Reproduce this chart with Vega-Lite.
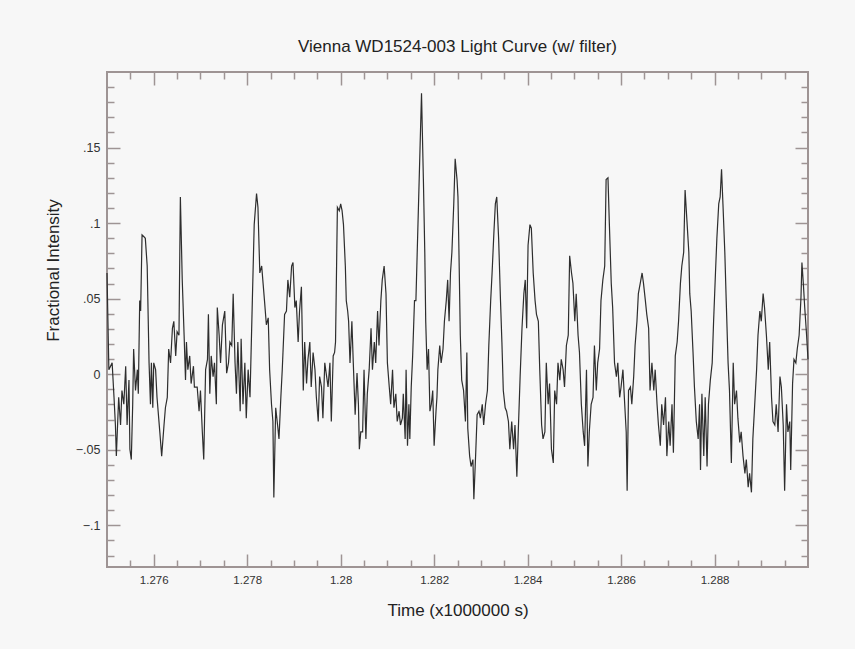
{
  "$schema": "https://vega.github.io/schema/vega-lite/v6.json",
  "width": 701,
  "height": 495,
  "autosize": {"type": "none"},
  "padding": {"left": 107, "top": 72, "right": 47, "bottom": 82},
  "background": "#f7f7f7",
  "title": {"text": "Vienna WD1524-003 Light Curve (w/ filter)", "fontSize": 17, "font": "Liberation Sans", "fontWeight": "normal", "color": "#222222", "baseline": "alphabetic", "offset": 19, "dy": 17},
  "config": {
    "view": {"stroke": "#9e9494", "strokeWidth": 2},
    "axis": {"grid": false, "domain": false, "tickColor": "#9e9494", "tickWidth": 1.5, "labelFont": "Liberation Sans", "titleFont": "Liberation Sans", "labelColor": "#333333", "titleColor": "#222222", "titleFontWeight": "normal"}
  },
  "datasets": {
    "lc": [
      {"t":1.27500,"v":0.0670},{"t":1.27504,"v":0.0030},{"t":1.27511,"v":0.0075},{"t":1.27515,"v":-0.0153},{"t":1.27518,"v":-0.0336},{"t":1.27520,"v":-0.0542},{"t":1.27525,"v":-0.0153},{"t":1.27529,"v":-0.0336},{"t":1.27532,"v":-0.0108},{"t":1.27536,"v":-0.0199},{"t":1.27540,"v":0.0053},{"t":1.27543,"v":-0.0336},{"t":1.27547,"v":-0.0039},{"t":1.27549,"v":-0.0497},{"t":1.27552,"v":-0.0565},{"t":1.27555,"v":-0.0199},{"t":1.27557,"v":0.0167},{"t":1.27561,"v":-0.0108},{"t":1.27565,"v":0.0030},{"t":1.27567,"v":-0.0130},{"t":1.27570,"v":0.0487},{"t":1.27572,"v":0.0418},{"t":1.27575,"v":0.0922},{"t":1.27579,"v":0.0910},{"t":1.27582,"v":0.0899},{"t":1.27586,"v":0.0716},{"t":1.27590,"v":0.0075},{"t":1.27593,"v":-0.0199},{"t":1.27595,"v":0.0075},{"t":1.27598,"v":-0.0222},{"t":1.27600,"v":0.0075},{"t":1.27604,"v":0.0030},{"t":1.27607,"v":-0.0153},{"t":1.27613,"v":-0.0382},{"t":1.27617,"v":-0.0542},{"t":1.27622,"v":-0.0336},{"t":1.27625,"v":-0.0222},{"t":1.27629,"v":-0.0153},{"t":1.27632,"v":0.0167},{"t":1.27636,"v":0.0075},{"t":1.27640,"v":0.0304},{"t":1.27643,"v":0.0350},{"t":1.27647,"v":0.0121},{"t":1.27650,"v":0.0281},{"t":1.27654,"v":0.0258},{"t":1.27657,"v":0.1173},{"t":1.27661,"v":0.0624},{"t":1.27665,"v":0.0258},{"t":1.27668,"v":-0.0039},{"t":1.27670,"v":0.0213},{"t":1.27673,"v":0.0030},{"t":1.27677,"v":0.0121},{"t":1.27680,"v":-0.0062},{"t":1.27685,"v":0.0053},{"t":1.27687,"v":-0.0085},{"t":1.27693,"v":-0.0085},{"t":1.27697,"v":-0.0245},{"t":1.27700,"v":-0.0108},{"t":1.27704,"v":-0.0382},{"t":1.27707,"v":-0.0565},{"t":1.27711,"v":0.0030},{"t":1.27715,"v":0.0098},{"t":1.27717,"v":0.0396},{"t":1.27720,"v":-0.0130},{"t":1.27723,"v":0.0121},{"t":1.27727,"v":-0.0016},{"t":1.27730,"v":0.0075},{"t":1.27734,"v":-0.0199},{"t":1.27736,"v":0.0441},{"t":1.27740,"v":0.0258},{"t":1.27743,"v":0.0075},{"t":1.27747,"v":0.0327},{"t":1.27752,"v":0.0418},{"t":1.27756,"v":0.0007},{"t":1.27760,"v":0.0075},{"t":1.27763,"v":0.0213},{"t":1.27767,"v":0.0190},{"t":1.27770,"v":0.0533},{"t":1.27774,"v":0.0075},{"t":1.27777,"v":-0.0130},{"t":1.27780,"v":0.0213},{"t":1.27785,"v":-0.0245},{"t":1.27787,"v":0.0235},{"t":1.27791,"v":-0.0199},{"t":1.27795,"v":0.0075},{"t":1.27798,"v":-0.0291},{"t":1.27802,"v":0.0030},{"t":1.27806,"v":-0.0153},{"t":1.27811,"v":0.0487},{"t":1.27815,"v":0.0990},{"t":1.27820,"v":0.1196},{"t":1.27823,"v":0.1105},{"t":1.27827,"v":0.0670},{"t":1.27831,"v":0.0716},{"t":1.27834,"v":0.0601},{"t":1.27837,"v":0.0487},{"t":1.27841,"v":0.0327},{"t":1.27845,"v":0.0373},{"t":1.27848,"v":0.0030},{"t":1.27852,"v":-0.0199},{"t":1.27855,"v":-0.0313},{"t":1.27857,"v":-0.0816},{"t":1.27861,"v":-0.0222},{"t":1.27865,"v":-0.0336},{"t":1.27868,"v":-0.0428},{"t":1.27872,"v":-0.0153},{"t":1.27875,"v":0.0030},{"t":1.27880,"v":0.0396},{"t":1.27884,"v":0.0418},{"t":1.27887,"v":0.0624},{"t":1.27891,"v":0.0510},{"t":1.27895,"v":0.0716},{"t":1.27898,"v":0.0739},{"t":1.27902,"v":0.0441},{"t":1.27905,"v":0.0487},{"t":1.27909,"v":0.0213},{"t":1.27912,"v":0.0418},{"t":1.27916,"v":0.0579},{"t":1.27920,"v":-0.0108},{"t":1.27923,"v":0.0213},{"t":1.27927,"v":-0.0062},{"t":1.27930,"v":0.0098},{"t":1.27934,"v":0.0213},{"t":1.27937,"v":-0.0085},{"t":1.27941,"v":0.0144},{"t":1.27945,"v":0.0030},{"t":1.27948,"v":-0.0153},{"t":1.27952,"v":-0.0313},{"t":1.27955,"v":-0.0016},{"t":1.27959,"v":-0.0085},{"t":1.27962,"v":-0.0291},{"t":1.27966,"v":0.0075},{"t":1.27970,"v":-0.0016},{"t":1.27973,"v":-0.0085},{"t":1.27977,"v":0.0075},{"t":1.27980,"v":-0.0313},{"t":1.27984,"v":0.0121},{"t":1.27987,"v":0.0144},{"t":1.27989,"v":0.0213},{"t":1.27993,"v":0.1105},{"t":1.27997,"v":0.1082},
      {"t":1.28000,"v":0.1127},{"t":1.28003,"v":0.1082},{"t":1.28006,"v":0.0990},{"t":1.28010,"v":0.0716},{"t":1.28012,"v":0.0487},{"t":1.28015,"v":0.0418},{"t":1.28017,"v":0.0350},{"t":1.28020,"v":0.0075},{"t":1.28024,"v":0.0350},{"t":1.28027,"v":0.0075},{"t":1.28031,"v":-0.0268},{"t":1.28035,"v":0.0007},{"t":1.28038,"v":-0.0199},{"t":1.28040,"v":-0.0497},{"t":1.28043,"v":-0.0382},{"t":1.28047,"v":-0.0382},{"t":1.28050,"v":0.0030},{"t":1.28054,"v":-0.0428},{"t":1.28057,"v":-0.0130},{"t":1.28061,"v":0.0030},{"t":1.28065,"v":0.0304},{"t":1.28068,"v":0.0030},{"t":1.28072,"v":0.0213},{"t":1.28075,"v":0.0075},{"t":1.28079,"v":0.0418},{"t":1.28082,"v":0.0190},{"t":1.28086,"v":0.0487},{"t":1.28089,"v":0.0624},{"t":1.28093,"v":0.0716},{"t":1.28097,"v":0.0533},{"t":1.28100,"v":0.0075},{"t":1.28104,"v":-0.0085},{"t":1.28107,"v":-0.0199},{"t":1.28111,"v":0.0030},{"t":1.28114,"v":-0.0222},{"t":1.28118,"v":-0.0130},{"t":1.28121,"v":-0.0313},{"t":1.28125,"v":-0.0245},{"t":1.28128,"v":-0.0336},{"t":1.28132,"v":-0.0291},{"t":1.28134,"v":-0.0130},{"t":1.28138,"v":-0.0428},{"t":1.28140,"v":0.0030},{"t":1.28143,"v":-0.0474},{"t":1.28146,"v":-0.0199},{"t":1.28148,"v":-0.0428},{"t":1.28151,"v":-0.0085},{"t":1.28154,"v":0.0121},{"t":1.28158,"v":0.0487},{"t":1.28161,"v":0.0487},{"t":1.28165,"v":0.0944},{"t":1.28167,"v":0.1173},{"t":1.28170,"v":0.1516},{"t":1.28173,"v":0.1859},{"t":1.28177,"v":0.1288},{"t":1.28180,"v":0.0807},{"t":1.28182,"v":0.0350},{"t":1.28185,"v":0.0030},{"t":1.28188,"v":0.0167},{"t":1.28191,"v":-0.0245},{"t":1.28194,"v":-0.0199},{"t":1.28197,"v":-0.0108},{"t":1.28200,"v":-0.0474},{"t":1.28204,"v":-0.0245},{"t":1.28206,"v":-0.0153},{"t":1.28208,"v":0.0030},{"t":1.28212,"v":0.0190},{"t":1.28215,"v":0.0075},{"t":1.28219,"v":0.0167},{"t":1.28222,"v":0.0350},{"t":1.28226,"v":0.0487},{"t":1.28229,"v":0.0624},{"t":1.28232,"v":0.0350},{"t":1.28235,"v":0.0670},{"t":1.28238,"v":0.0807},{"t":1.28242,"v":0.1127},{"t":1.28245,"v":0.1425},{"t":1.28249,"v":0.1288},{"t":1.28251,"v":0.1173},{"t":1.28253,"v":0.0830},{"t":1.28256,"v":0.0258},{"t":1.28259,"v":-0.0039},{"t":1.28263,"v":-0.0108},{"t":1.28267,"v":-0.0313},{"t":1.28270,"v":0.0144},{"t":1.28272,"v":-0.0359},{"t":1.28276,"v":-0.0542},{"t":1.28279,"v":-0.0611},{"t":1.28283,"v":-0.0565},{"t":1.28285,"v":-0.0828},{"t":1.28289,"v":-0.0519},{"t":1.28292,"v":-0.0268},{"t":1.28296,"v":-0.0245},{"t":1.28299,"v":-0.0291},{"t":1.28303,"v":-0.0199},{"t":1.28306,"v":-0.0336},{"t":1.28310,"v":-0.0199},{"t":1.28314,"v":-0.0108},{"t":1.28317,"v":0.0190},{"t":1.28321,"v":0.0487},{"t":1.28324,"v":0.0670},{"t":1.28328,"v":0.0944},{"t":1.28331,"v":0.1127},{"t":1.28334,"v":0.1173},{"t":1.28338,"v":0.0899},{"t":1.28342,"v":0.0487},{"t":1.28345,"v":0.0213},{"t":1.28348,"v":-0.0108},{"t":1.28352,"v":-0.0222},{"t":1.28355,"v":-0.0245},{"t":1.28359,"v":-0.0313},{"t":1.28362,"v":-0.0497},{"t":1.28366,"v":-0.0313},{"t":1.28370,"v":-0.0497},{"t":1.28373,"v":-0.0336},{"t":1.28377,"v":-0.0679},{"t":1.28380,"v":-0.0382},{"t":1.28384,"v":-0.0016},{"t":1.28388,"v":0.0304},{"t":1.28392,"v":0.0533},{"t":1.28395,"v":0.0624},{"t":1.28398,"v":0.0304},{"t":1.28401,"v":0.0853},{"t":1.28405,"v":0.0990},{"t":1.28408,"v":0.0967},{"t":1.28412,"v":0.0670},{"t":1.28416,"v":0.0487},{"t":1.28419,"v":0.0396},{"t":1.28423,"v":0.0350},{"t":1.28426,"v":0.0030},{"t":1.28430,"v":-0.0336},{"t":1.28433,"v":-0.0428},{"t":1.28437,"v":-0.0382},{"t":1.28440,"v":0.0075},{"t":1.28444,"v":-0.0199},{"t":1.28447,"v":-0.0062},{"t":1.28451,"v":-0.0497},{"t":1.28455,"v":-0.0588},{"t":1.28458,"v":-0.0108},{"t":1.28462,"v":-0.0199},{"t":1.28465,"v":0.0075},{"t":1.28469,"v":-0.0039},{"t":1.28472,"v":0.0098},{"t":1.28476,"v":0.0030},{"t":1.28479,"v":-0.0085},{"t":1.28483,"v":0.0190},{"t":1.28487,"v":0.0258},{"t":1.28490,"v":0.0784},{"t":1.28494,"v":0.0670},{"t":1.28497,"v":0.0601},{"t":1.28501,"v":0.0350},{"t":1.28504,"v":0.0533},{"t":1.28508,"v":0.0258},{"t":1.28511,"v":0.0144},{"t":1.28515,"v":-0.0199},{"t":1.28519,"v":-0.0382},{"t":1.28522,"v":-0.0474},{"t":1.28526,"v":0.0030},{"t":1.28529,"v":-0.0611},
      {"t":1.28532,"v":-0.0382},{"t":1.28536,"v":-0.0199},{"t":1.28540,"v":-0.0153},{"t":1.28543,"v":0.0190},{"t":1.28547,"v":-0.0108},{"t":1.28550,"v":0.0075},{"t":1.28554,"v":0.0167},{"t":1.28557,"v":0.0487},{"t":1.28561,"v":0.0624},{"t":1.28565,"v":0.0716},{"t":1.28568,"v":0.1288},{"t":1.28572,"v":0.1299},{"t":1.28575,"v":0.0990},{"t":1.28579,"v":0.0601},{"t":1.28582,"v":0.0441},{"t":1.28586,"v":0.0075},{"t":1.28590,"v":-0.0016},{"t":1.28593,"v":0.0075},{"t":1.28597,"v":-0.0153},{"t":1.28600,"v":-0.0085},{"t":1.28604,"v":0.0030},{"t":1.28607,"v":-0.0153},{"t":1.28611,"v":-0.0382},{"t":1.28613,"v":-0.0771},{"t":1.28616,"v":-0.0108},{"t":1.28620,"v":-0.0085},{"t":1.28623,"v":-0.0199},{"t":1.28627,"v":-0.0016},{"t":1.28630,"v":0.0190},{"t":1.28634,"v":0.0350},{"t":1.28637,"v":0.0533},{"t":1.28641,"v":0.0601},{"t":1.28645,"v":0.0670},{"t":1.28648,"v":0.0601},{"t":1.28652,"v":0.0487},{"t":1.28655,"v":0.0396},{"t":1.28659,"v":0.0304},{"t":1.28662,"v":-0.0108},{"t":1.28666,"v":0.0075},{"t":1.28670,"v":-0.0108},{"t":1.28673,"v":0.0030},{"t":1.28677,"v":-0.0199},{"t":1.28680,"v":-0.0336},{"t":1.28684,"v":-0.0474},{"t":1.28687,"v":-0.0199},{"t":1.28691,"v":-0.0336},{"t":1.28695,"v":-0.0153},{"t":1.28698,"v":-0.0542},{"t":1.28702,"v":-0.0313},{"t":1.28705,"v":-0.0474},{"t":1.28709,"v":-0.0199},{"t":1.28712,"v":-0.0519},{"t":1.28716,"v":0.0121},{"t":1.28720,"v":0.0213},{"t":1.28723,"v":0.0350},{"t":1.28727,"v":0.0601},{"t":1.28730,"v":0.0716},{"t":1.28734,"v":0.0807},{"t":1.28737,"v":0.1219},{"t":1.28741,"v":0.1013},{"t":1.28745,"v":0.0807},{"t":1.28747,"v":0.0533},{"t":1.28750,"v":0.0418},{"t":1.28754,"v":0.0144},{"t":1.28757,"v":-0.0085},{"t":1.28761,"v":-0.0313},{"t":1.28765,"v":-0.0428},{"t":1.28768,"v":-0.0199},{"t":1.28770,"v":-0.0634},{"t":1.28773,"v":-0.0130},{"t":1.28777,"v":-0.0542},{"t":1.28780,"v":-0.0153},{"t":1.28784,"v":-0.0611},{"t":1.28787,"v":-0.0199},{"t":1.28791,"v":-0.0039},{"t":1.28795,"v":0.0075},{"t":1.28798,"v":0.0350},{"t":1.28802,"v":0.0670},{"t":1.28805,"v":0.0899},{"t":1.28809,"v":0.1127},{"t":1.28812,"v":0.1173},{"t":1.28815,"v":0.1356},{"t":1.28818,"v":0.1127},{"t":1.28822,"v":0.0807},{"t":1.28825,"v":0.0487},{"t":1.28829,"v":0.0075},{"t":1.28832,"v":-0.0108},{"t":1.28836,"v":-0.0588},{"t":1.28840,"v":0.0075},{"t":1.28843,"v":-0.0199},{"t":1.28847,"v":-0.0108},{"t":1.28850,"v":-0.0291},{"t":1.28854,"v":-0.0451},{"t":1.28857,"v":-0.0382},{"t":1.28861,"v":-0.0542},{"t":1.28865,"v":-0.0656},{"t":1.28868,"v":-0.0565},{"t":1.28872,"v":-0.0748},{"t":1.28875,"v":-0.0656},{"t":1.28879,"v":-0.0782},{"t":1.28882,"v":-0.0428},{"t":1.28886,"v":-0.0199},{"t":1.28890,"v":0.0030},{"t":1.28893,"v":0.0258},{"t":1.28897,"v":0.0418},{"t":1.28900,"v":0.0350},{"t":1.28904,"v":0.0533},{"t":1.28907,"v":0.0441},{"t":1.28911,"v":0.0258},{"t":1.28915,"v":0.0030},{"t":1.28918,"v":0.0213},{"t":1.28922,"v":-0.0153},{"t":1.28925,"v":-0.0313},{"t":1.28929,"v":-0.0336},{"t":1.28932,"v":-0.0199},{"t":1.28936,"v":-0.0382},{"t":1.28940,"v":-0.0016},{"t":1.28943,"v":-0.0085},{"t":1.28947,"v":-0.0336},{"t":1.28950,"v":-0.0771},{"t":1.28954,"v":-0.0199},{"t":1.28957,"v":-0.0382},{"t":1.28961,"v":-0.0313},{"t":1.28963,"v":-0.0634},{"t":1.28967,"v":-0.0062},{"t":1.28970,"v":0.0098},{"t":1.28974,"v":0.0075},{"t":1.28977,"v":0.0167},{"t":1.28981,"v":0.0258},{"t":1.28985,"v":0.0510},{"t":1.28987,"v":0.0739},{"t":1.28990,"v":0.0601},{"t":1.28993,"v":0.0441},{"t":1.28997,"v":0.0258},{"t":1.29000,"v":0.0098}
    ]
  },
  "data": {"name": "lc"},
  "layer": [
    {
      "mark": {"type": "line", "color": "#2e2e2e", "strokeWidth": 1.2},
      "encoding": {
        "x": {"field": "t", "type": "quantitative", "scale": {"domain": [1.275, 1.29], "nice": false, "zero": false},
          "axis": {"orient": "bottom", "values": [1.276, 1.278, 1.28, 1.282, 1.284, 1.286, 1.288], "format": "~g", "ticks": false, "labelPadding": 7, "labelFontSize": 11.5, "title": "Time (x1000000 s)", "titleFontSize": 17, "titleX": 350.5, "titleY": 43, "titleAlign": "center", "titleBaseline": "middle"}},
        "y": {"field": "v", "type": "quantitative", "scale": {"domain": [-0.1276, 0.2], "nice": false, "zero": false},
          "axis": {"orient": "left", "values": [-0.1, -0.05, 0, 0.05, 0.1, 0.15], "labelExpr": "replace(format(datum.value, '~g'), '0.', '.')", "ticks": false, "labelPadding": 7, "labelFontSize": 12.5, "title": "Fractional Intensity", "titleFontSize": 17, "titleAngle": -90, "titleX": -54, "titleY": 198, "titleAlign": "center", "titleBaseline": "middle"}}
      }
    },
    {
      "mark": {"type": "line", "opacity": 0},
      "encoding": {
        "x": {"field": "t", "type": "quantitative", "scale": {"domain": [1.275, 1.29], "nice": false, "zero": false},
          "axis": {"orient": "bottom", "offset": -13, "tickSize": 13, "labels": false, "title": null, "values": [1.276, 1.278, 1.28, 1.282, 1.284, 1.286, 1.288]}},
        "y": {"field": "v", "type": "quantitative", "scale": {"domain": [-0.1276, 0.2], "nice": false, "zero": false},
          "axis": {"orient": "left", "offset": -13, "tickSize": 13, "labels": false, "title": null, "values": [-0.1, -0.05, 0, 0.05, 0.1, 0.15]}}
      }
    },
    {
      "mark": {"type": "line", "opacity": 0},
      "encoding": {
        "x": {"field": "t", "type": "quantitative", "scale": {"domain": [1.275, 1.29], "nice": false, "zero": false},
          "axis": {"orient": "bottom", "offset": -7, "tickSize": 7, "labels": false, "title": null, "values": [1.2755, 1.2765, 1.277, 1.2775, 1.2785, 1.279, 1.2795, 1.2805, 1.281, 1.2815, 1.2825, 1.283, 1.2835, 1.2845, 1.285, 1.2855, 1.2865, 1.287, 1.2875, 1.2885, 1.289, 1.2895]}},
        "y": {"field": "v", "type": "quantitative", "scale": {"domain": [-0.1276, 0.2], "nice": false, "zero": false},
          "axis": {"orient": "left", "offset": -7, "tickSize": 7, "labels": false, "title": null, "values": [-0.12, -0.11, -0.09, -0.08, -0.07, -0.06, -0.04, -0.03, -0.02, -0.01, 0.01, 0.02, 0.03, 0.04, 0.06, 0.07, 0.08, 0.09, 0.11, 0.12, 0.13, 0.14, 0.16, 0.17, 0.18, 0.19]}}
      }
    },
    {
      "mark": {"type": "line", "opacity": 0},
      "encoding": {
        "x": {"field": "t", "type": "quantitative", "scale": {"domain": [1.275, 1.29], "nice": false, "zero": false},
          "axis": {"orient": "top", "offset": -13, "tickSize": 13, "labels": false, "title": null, "values": [1.276, 1.278, 1.28, 1.282, 1.284, 1.286, 1.288]}},
        "y": {"field": "v", "type": "quantitative", "scale": {"domain": [-0.1276, 0.2], "nice": false, "zero": false},
          "axis": {"orient": "right", "offset": -13, "tickSize": 13, "labels": false, "title": null, "values": [-0.1, -0.05, 0, 0.05, 0.1, 0.15]}}
      }
    },
    {
      "mark": {"type": "line", "opacity": 0},
      "encoding": {
        "x": {"field": "t", "type": "quantitative", "scale": {"domain": [1.275, 1.29], "nice": false, "zero": false},
          "axis": {"orient": "top", "offset": -7, "tickSize": 7, "labels": false, "title": null, "values": [1.2755, 1.2765, 1.277, 1.2775, 1.2785, 1.279, 1.2795, 1.2805, 1.281, 1.2815, 1.2825, 1.283, 1.2835, 1.2845, 1.285, 1.2855, 1.2865, 1.287, 1.2875, 1.2885, 1.289, 1.2895]}},
        "y": {"field": "v", "type": "quantitative", "scale": {"domain": [-0.1276, 0.2], "nice": false, "zero": false},
          "axis": {"orient": "right", "offset": -7, "tickSize": 7, "labels": false, "title": null, "values": [-0.12, -0.11, -0.09, -0.08, -0.07, -0.06, -0.04, -0.03, -0.02, -0.01, 0.01, 0.02, 0.03, 0.04, 0.06, 0.07, 0.08, 0.09, 0.11, 0.12, 0.13, 0.14, 0.16, 0.17, 0.18, 0.19]}}
      }
    }
  ],
  "resolve": {"axis": {"x": "independent", "y": "independent"}}
}
